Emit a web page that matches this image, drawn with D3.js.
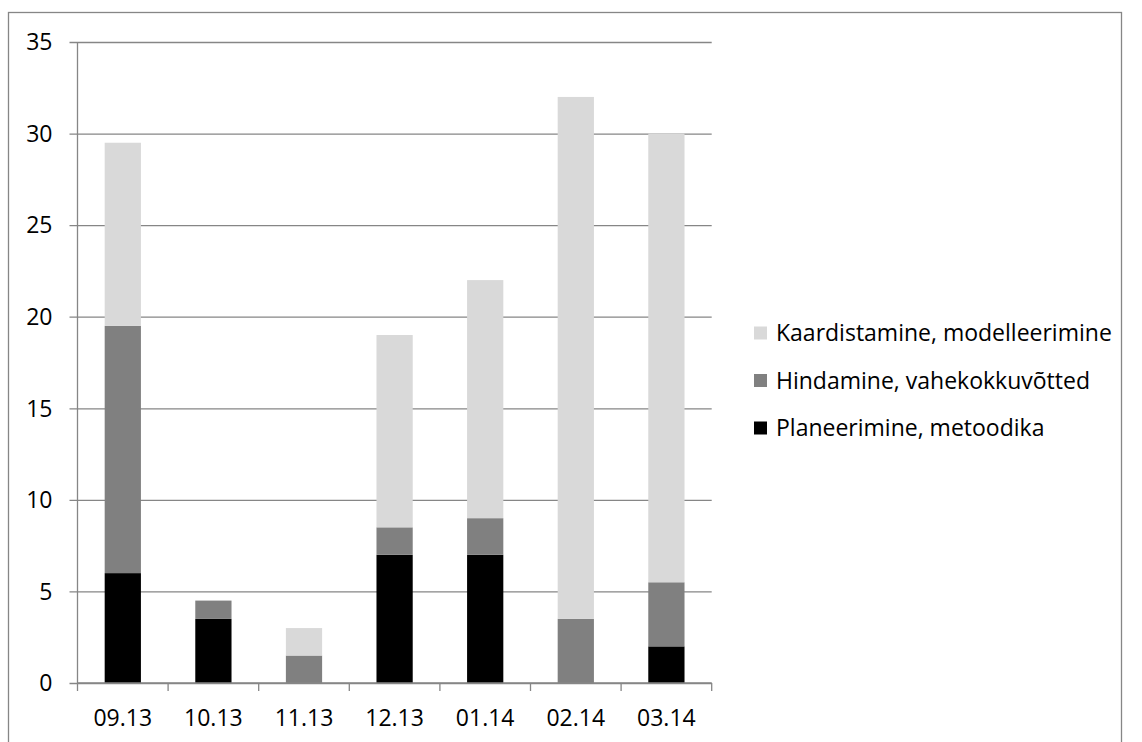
<!DOCTYPE html>
<html>
<head>
<meta charset="utf-8">
<script src="https://cdn.jsdelivr.net/npm/d3@7"></script>
<style>
  html, body { margin: 0; padding: 0; background: #fff; }
  svg { display: block; }
  text { font-family: "Open Sans", "Noto Sans", sans-serif; fill: #000; }
</style>
</head>
<body>
<svg id="chart" width="1142" height="742"></svg>
<script>
const categories = ["09.13", "10.13", "11.13", "12.13", "01.14", "02.14", "03.14"];
const seriesNames = ["Planeerimine, metoodika", "Hindamine, vahekokkuvõtted", "Kaardistamine, modelleerimine"];
const planeerimine = [6, 3.5, 0, 7, 7, 0, 2];
const hindamine = [13.5, 1, 1.5, 1.5, 2, 3.5, 3.5];
const kaardistamine = [10, 0, 1.5, 10.5, 13, 28.5, 24.5];
const yTicks = [0, 5, 10, 15, 20, 25, 30, 35];
const colors = ["#000000", "#808080", "#d9d9d9"];

const svg = d3.select("#chart");
const gridColor = "#868686";

// outer border
svg.append("rect").attr("x", 8.5).attr("y", 12.5).attr("width", 1113).attr("height", 760)
  .attr("fill", "none").attr("stroke", gridColor).attr("stroke-width", 1.3);

const pLeft = 77.5, pRight = 711.7, pTop = 42, pBottom = 683;
const x = d3.scaleBand().domain(categories).range([pLeft, pRight]).paddingInner(0).paddingOuter(0);
const y = d3.scaleLinear().domain([0, 35]).range([pBottom, pTop]);

// gridlines + y labels
const yAxis = d3.axisLeft(y).tickValues(yTicks).tickSize(-(pRight - pLeft)).tickSizeOuter(0).tickPadding(17);
const gy = svg.append("g").attr("transform", `translate(${pLeft},0)`).call(yAxis);
gy.select(".domain").remove();
gy.selectAll(".tick line").attr("stroke", gridColor).attr("stroke-width", 1.3).attr("x1", -8);
gy.selectAll(".tick text").attr("font-size", 23).attr("font-family", "Open Sans").attr("fill", "#000").attr("dy", "0.34em").attr("x", -25);

// stacked data
const table = categories.map((c, i) => ({cat: c, p: planeerimine[i], h: hindamine[i], k: kaardistamine[i]}));
const stack = d3.stack().keys(["p", "h", "k"]);
const layers = stack(table);

const barW = x.bandwidth() * 0.4;
svg.append("g").selectAll("g").data(layers).join("g")
  .attr("fill", (d, i) => colors[i])
  .selectAll("rect").data(d => d.filter(s => s[1] - s[0] > 0)).join("rect")
  .attr("x", d => x(d.data.cat) + (x.bandwidth() - barW) / 2)
  .attr("width", barW)
  .attr("y", d => y(d[1]))
  .attr("height", d => y(d[0]) - y(d[1]));

// y axis line
svg.append("line").attr("x1", pLeft).attr("x2", pLeft).attr("y1", pTop).attr("y2", pBottom)
  .attr("stroke", gridColor).attr("stroke-width", 1.3);

// x axis
const gx = svg.append("g");
gx.append("line").attr("x1", pLeft).attr("x2", pRight).attr("y1", pBottom).attr("y2", pBottom)
  .attr("stroke", gridColor).attr("stroke-width", 1.3);
const boundaries = categories.map(c => x(c)).concat([pRight]);
gx.selectAll("line.tk").data(boundaries).join("line").attr("class", "tk")
  .attr("x1", d => d).attr("x2", d => d).attr("y1", pBottom).attr("y2", pBottom + 8)
  .attr("stroke", gridColor).attr("stroke-width", 1.3);
gx.selectAll("text").data(categories).join("text")
  .attr("x", d => x(d) + x.bandwidth() / 2).attr("y", 726)
  .attr("text-anchor", "middle").attr("font-size", 23).text(d => d);

// legend (top to bottom: Kaardistamine, Hindamine, Planeerimine)
const legendOrder = [2, 1, 0];
const lg = svg.append("g");
legendOrder.forEach((si, row) => {
  const cy = 333 + row * 47.5;
  lg.append("rect").attr("x", 754).attr("y", cy - 6.5).attr("width", 13).attr("height", 13).attr("fill", colors[si]);
  lg.append("text").attr("x", 776).attr("y", cy + 8).attr("font-size", 23).text(seriesNames[si]);
});
</script>
</body>
</html>
